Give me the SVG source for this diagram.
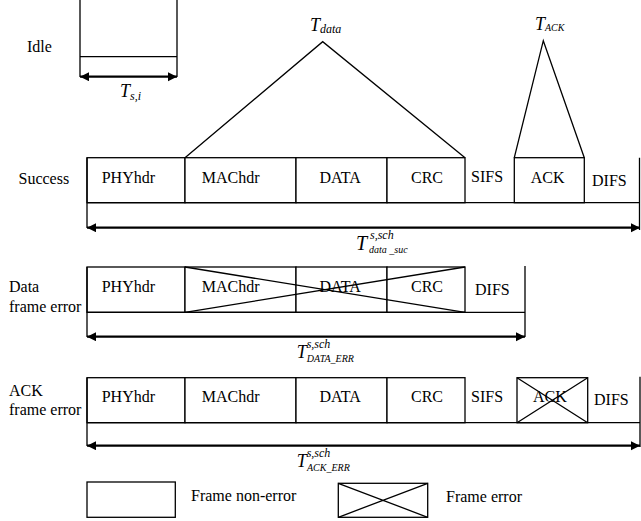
<svg xmlns="http://www.w3.org/2000/svg" width="641" height="521" viewBox="0 0 641 521">
  <style>
    .bx { fill: #fff; stroke: #000; stroke-width: 1.3; }
    .ln { fill: none; stroke: #000; stroke-width: 1.3; }
    .ar { fill: none; stroke: #000; stroke-width: 2.2; marker-start: url(#head); marker-end: url(#head); }
    .t { font-family: "Liberation Serif", "Times New Roman", serif; font-size: 16px; fill: #000; }
    .m { font-family: "Liberation Serif", "Times New Roman", serif; font-style: italic; fill: #000; }
    .mT { font-size: 18px; }
    .ms { font-size: 12px; }
    .mc { font-size: 10px; }
  </style>
  <defs>
    <marker id="head" markerUnits="userSpaceOnUse" markerWidth="10" markerHeight="10" refX="9" refY="4.5" orient="auto-start-reverse">
      <path d="M0,0 L9,4.5 L0,9 Z" fill="#000"/>
    </marker>
  </defs>

  <!-- row captions -->
  <g id="labels">
    <text class="t" x="27" y="52">Idle</text>
    <text class="t" x="18.5" y="184">Success</text>
    <text class="t" x="9" y="292">Data</text>
    <text class="t" x="9" y="311.5">frame error</text>
    <text class="t" x="9" y="396">ACK</text>
    <text class="t" x="9" y="415">frame error</text>
  </g>

  <!-- idle slot -->
  <g id="idle">
    <path class="ln" d="M80,0 V77 M177,0 V77 M80,56.7 H177"/>
    <text class="m" x="120" y="97"><tspan class="mT">T</tspan><tspan class="ms" dy="3">s,i</tspan></text>
  </g>

  <!-- successful exchange -->
  <g id="success">
    <rect class="bx" x="87" y="157.7" width="98" height="45"/>
    <rect class="bx" x="185" y="157.7" width="111" height="45"/>
    <rect class="bx" x="296" y="157.7" width="91" height="45"/>
    <rect class="bx" x="387" y="157.7" width="78" height="45"/>
    <rect class="bx" x="514.3" y="157.7" width="70" height="45"/>
    <path class="ln" d="M87,202.7 H639.5 M87,157.7 V228 M639.5,157.7 V230"/>
    <text class="t" x="101.7" y="183.3">PHYhdr</text>
    <text class="t" x="201.7" y="183.3">MAChdr</text>
    <text class="t" x="319.5" y="183.3">DATA</text>
    <text class="t" x="411" y="183.3">CRC</text>
    <text class="t" x="471" y="182.3">SIFS</text>
    <text class="t" x="530.7" y="182.7">ACK</text>
    <text class="t" x="592" y="185.7">DIFS</text>
  </g>

  <!-- data frame error -->
  <g id="data-error">
    <rect class="bx" x="87" y="267" width="98" height="45.3"/>
    <rect class="bx" x="185" y="267" width="111" height="45.3"/>
    <rect class="bx" x="296" y="267" width="91" height="45.3"/>
    <rect class="bx" x="387" y="267" width="78" height="45.3"/>
    <path class="ln" d="M87,312.3 H525 M87,267 V337 M525,266 V337"/>
    <path class="ln" d="M185,267 L465,312.3 M185,312.3 L465,267"/>
    <text class="t" x="101.7" y="291.7">PHYhdr</text>
    <text class="t" x="201.7" y="291.7">MAChdr</text>
    <text class="t" x="319.5" y="291.7">DATA</text>
    <text class="t" x="411" y="291.7">CRC</text>
    <text class="t" x="475" y="295">DIFS</text>
  </g>

  <!-- ACK frame error -->
  <g id="ack-error">
    <rect class="bx" x="87" y="377.7" width="98" height="45"/>
    <rect class="bx" x="185" y="377.7" width="111" height="45"/>
    <rect class="bx" x="296" y="377.7" width="91" height="45"/>
    <rect class="bx" x="387" y="377.7" width="78" height="45"/>
    <rect class="bx" x="517" y="377.7" width="70.7" height="45"/>
    <path class="ln" d="M87,422.7 H640 M87,377.7 V446 M640,376.7 V447"/>
    <text class="t" x="101.7" y="401.7">PHYhdr</text>
    <text class="t" x="201.7" y="401.7">MAChdr</text>
    <text class="t" x="319.5" y="401.7">DATA</text>
    <text class="t" x="411" y="401.7">CRC</text>
    <text class="t" x="471" y="401.7">SIFS</text>
    <text class="t" x="533" y="402">ACK</text>
    <path class="ln" d="M517,377.7 L587.7,422.7 M517,422.7 L587.7,377.7"/>
    <text class="t" x="594" y="405">DIFS</text>
  </g>

  <!-- legend -->
  <g id="legend">
    <rect class="bx" x="87" y="482" width="88.3" height="35.3"/>
    <text class="t" x="191" y="500.5">Frame non-error</text>
    <rect class="bx" x="338.3" y="483.3" width="89.4" height="34"/>
    <path class="ln" d="M338.3,483.3 L427.7,517.3 M338.3,517.3 L427.7,483.3"/>
    <text class="t" x="446" y="502">Frame error</text>
  </g>

  <!-- duration arrows, frame expansion lines and timing symbols -->
  <g id="connectors">
    <path class="ar" d="M80,76.7 H177"/>
    <path class="ar" d="M87,227.7 H640"/>
    <path class="ar" d="M87,336.7 H525"/>
    <path class="ar" d="M87,445.7 H640"/>
    <path class="ln" d="M185,157.7 L322.7,41.7 L465,157.7"/>
    <path class="ln" d="M514.3,157.7 L543.3,40.7 L584.3,157.7"/>
    <text class="m" x="310" y="30.7"><tspan class="mT">T</tspan><tspan class="ms" dy="2">data</tspan></text>
    <text class="m" x="535" y="30"><tspan class="mT">T</tspan><tspan class="mc" dy="1">ACK</tspan></text>
    <text class="m" x="356" y="250"><tspan class="mT" style="font-size:20px">T</tspan><tspan class="ms" x="370" y="239">s,sch</tspan><tspan class="mc" x="369" y="253">data _suc</tspan></text>
    <text class="m" x="296.7" y="358"><tspan class="mT">T</tspan><tspan class="ms" x="306.7" y="348">s,sch</tspan><tspan class="mc" x="306.7" y="361.7">DATA_ERR</tspan></text>
    <text class="m" x="296.7" y="466.7"><tspan class="mT">T</tspan><tspan class="ms" x="306.7" y="456.7">s,sch</tspan><tspan class="mc" x="307" y="470.7">ACK_ERR</tspan></text>
  </g>
</svg>
